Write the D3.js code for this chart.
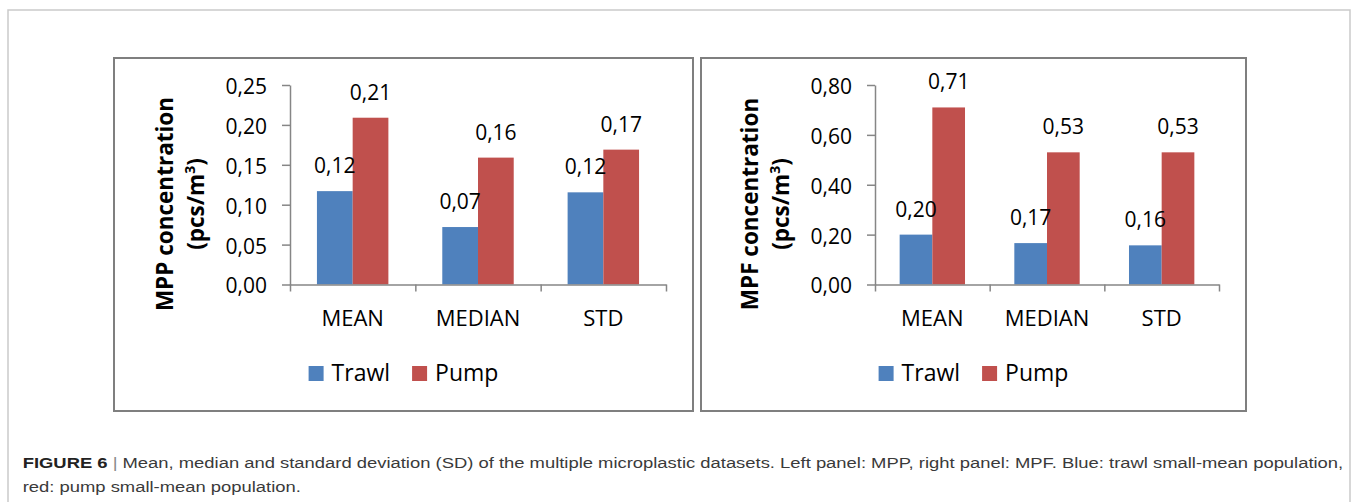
<!DOCTYPE html>
<html>
<head>
<meta charset="utf-8">
<script src="https://cdn.jsdelivr.net/npm/d3@7"></script>
<style>
  html, body { margin: 0; padding: 0; background: #fff; }
  svg { display: block; }
</style>
</head>
<body>
<div id="app"></div>
<script>
"use strict";

// data
const categories = ["MEAN", "MEDIAN", "STD"];
const seriesNames = ["Trawl", "Pump"];
const mppTrawl = [0.117, 0.072, 0.1155];
const mppPump = [0.209, 0.159, 0.169];
const mpfTrawl = [0.20, 0.166, 0.157];
const mpfPump = [0.71, 0.53, 0.53];
const mppTicks = [0, 0.05, 0.10, 0.15, 0.20, 0.25];
const mpfTicks = [0, 0.20, 0.40, 0.60, 0.80];
const captionBold = "FIGURE 6";
const captionLine1 = "Mean, median and standard deviation (SD) of the multiple microplastic datasets. Left panel: MPP, right panel: MPF. Blue: trawl small-mean population,";
const captionLine2 = "red: pump small-mean population.";

const colors = ["#4f81bd", "#c0504d"];
const fmt = d3.formatLocale({decimal: ",", thousands: ".", grouping: [3], currency: ["", ""]}).format(".2f");
const chartFont = "'Open Sans', sans-serif";

const width = 1354;
const height = 502;

const svg = d3.select("#app")
  .append("svg")
  .attr("width", width)
  .attr("height", height);

// outer frame
svg.append("rect")
  .attr("x", 8).attr("y", 10)
  .attr("width", 1342).attr("height", 530)
  .attr("fill", "none")
  .attr("stroke", "#cacaca")
  .attr("stroke-width", 1.5);

const panels = [
  {left: 114, right: 693, x0: 290, x1: 666, ticks: mppTicks, title: "MPP concentration", values: [mppTrawl, mppPump]},
  {left: 701, right: 1246, x0: 875, x1: 1219, ticks: mpfTicks, title: "MPF concentration", values: [mpfTrawl, mpfPump]}
];

function drawPanel(p) {
  const g = svg.append("g").style("font-family", chartFont);
  const yBottom = 284.5, yTop = 85;

  g.append("rect")
    .attr("x", p.left).attr("y", 58)
    .attr("width", p.right - p.left).attr("height", 353)
    .attr("fill", "#fff")
    .attr("stroke", "#7f7f7f")
    .attr("stroke-width", 2);

  const y = d3.scaleLinear()
    .domain([0, p.ticks[p.ticks.length - 1]])
    .range([yBottom, yTop]);

  const x = d3.scaleBand()
    .domain(categories)
    .range([p.x0, p.x1])
    .paddingInner(0.43)
    .paddingOuter(0.215);

  const xs = d3.scaleBand()
    .domain(seriesNames)
    .range([0, x.bandwidth()]);

  // bars
  seriesNames.forEach((s, si) => {
    g.append("g").selectAll("rect")
      .data(p.values[si])
      .join("rect")
      .attr("x", (d, i) => x(categories[i]) + xs(s))
      .attr("y", d => y(d))
      .attr("width", xs.bandwidth())
      .attr("height", d => yBottom - y(d))
      .attr("fill", colors[si]);
  });

  // y axis
  const yAxis = g.append("g")
    .attr("transform", `translate(${p.x0},0)`)
    .call(d3.axisLeft(y).tickValues(p.ticks).tickFormat(fmt).tickSize(8).tickSizeOuter(0).tickPadding(15));
  yAxis.selectAll("path, line").attr("stroke", "#868686").attr("stroke-width", 1.5);
  yAxis.selectAll("text")
    .attr("fill", "#000")
    .style("font-family", chartFont)
    .style("font-size", "21px")
    .attr("dy", "0.4em");

  // x axis: boundary ticks
  const xb = d3.scaleLinear().domain([0, categories.length]).range([p.x0, p.x1]);
  const xAxis = g.append("g")
    .attr("transform", `translate(0,${yBottom})`)
    .call(d3.axisBottom(xb).tickValues(d3.range(categories.length + 1)).tickFormat("").tickSize(7).tickSizeOuter(0));
  xAxis.selectAll("path, line").attr("stroke", "#868686").attr("stroke-width", 1.5);

  // category labels
  const cAxis = g.append("g")
    .attr("transform", `translate(0,${yBottom})`)
    .call(d3.axisBottom(x).tickSize(0).tickPadding(0));
  cAxis.select(".domain").remove();
  cAxis.selectAll("text")
    .attr("fill", "#000")
    .attr("y", 41)
    .attr("dy", 0)
    .style("font-family", chartFont)
    .style("font-size", "22px");

  // data labels
  seriesNames.forEach((s, si) => {
    g.append("g").selectAll("text")
      .data(p.values[si])
      .join("text")
      .attr("x", (d, i) => x(categories[i]) + xs(s) + xs.bandwidth() / 2)
      .attr("y", d => y(d) - 18)
      .attr("text-anchor", "middle")
      .style("font-size", "21px")
      .text(d => fmt(d));
  });

  // y title
  const cy = 204;
  g.append("text")
    .attr("transform", `translate(${p.x0 - 117},${cy}) rotate(-90)`)
    .attr("text-anchor", "middle")
    .style("font-weight", "bold")
    .style("font-size", "22.5px")
    .text(p.title);
  const t2 = g.append("text")
    .attr("transform", `translate(${p.x0 - 86},${cy}) rotate(-90)`)
    .attr("text-anchor", "middle")
    .style("font-weight", "bold")
    .style("font-size", "22.5px");
  t2.append("tspan").text("(pcs/m");
  t2.append("tspan").attr("baseline-shift", "super").style("font-size", "14px").text("3");
  t2.append("tspan").text(")");

  // legend, centred on the panel
  const lg = g.append("g");
  const sq = 15, gapText = 8, gapItem = 22;
  let cx = 0;
  seriesNames.forEach((s, si) => {
    lg.append("rect")
      .attr("x", cx).attr("y", 366)
      .attr("width", sq).attr("height", sq)
      .attr("fill", colors[si]);
    const t = lg.append("text")
      .attr("x", cx + sq + gapText).attr("y", 381)
      .style("font-size", "23px")
      .text(s);
    cx += sq + gapText + t.node().getComputedTextLength() + gapItem;
  });
  const lw = cx - gapItem;
  lg.attr("transform", `translate(${(p.left + p.right) / 2 - lw / 2},0)`);
}

panels.forEach(drawPanel);

// caption, stretched to the figure's width
const cap = svg.append("g")
  .style("font-family", "'Liberation Sans', Arial, sans-serif")
  .style("font-size", "14px")
  .attr("fill", "#3a3a3a");
const c1 = cap.append("text").attr("x", 0).attr("y", 468);
c1.append("tspan").style("font-weight", "bold").attr("fill", "#222").text(captionBold);
c1.append("tspan").attr("fill", "#888").text("  |  ");
c1.append("tspan").text(captionLine1);
cap.append("text").attr("x", 0).attr("y", 492).text(captionLine2);
const natural = c1.node().getComputedTextLength();
const sx = (1344 - 22.7) / natural;
cap.attr("transform", `translate(22.7,0) scale(${sx},1)`);
</script>
</body>
</html>
